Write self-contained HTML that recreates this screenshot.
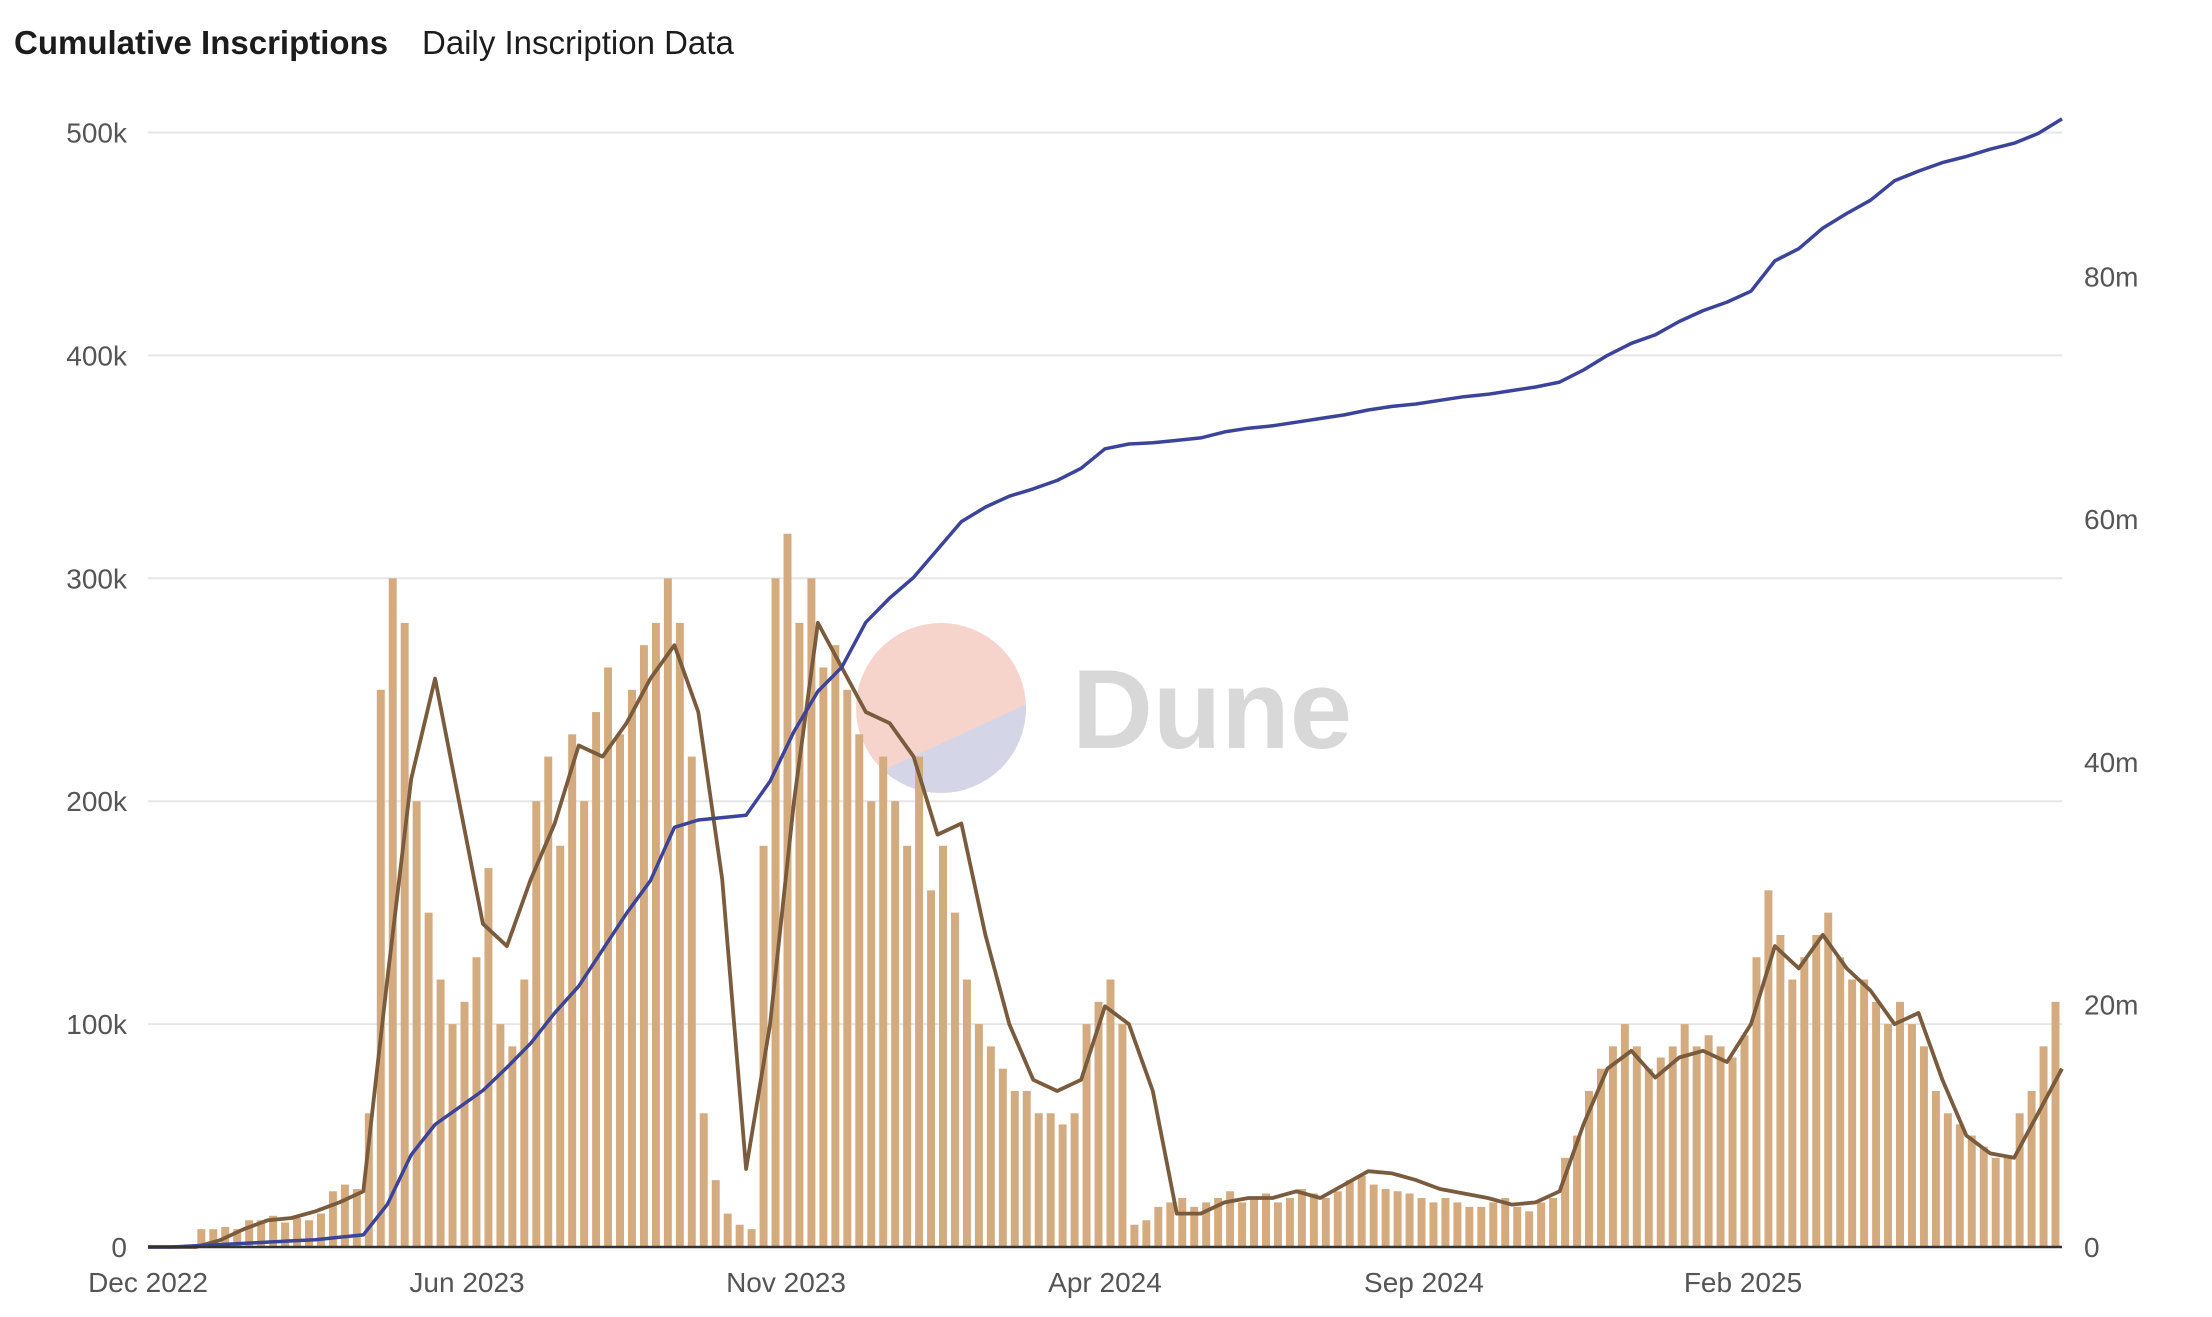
<!DOCTYPE html>
<html><head><meta charset="utf-8"><style>
body{margin:0;background:#fff;}
svg text{font-family:"Liberation Sans",sans-serif;}
</style></head><body>
<svg id="chart" width="2212" height="1312" xmlns="http://www.w3.org/2000/svg">
<text x="14" y="54" font-size="33" font-weight="bold" fill="#1c1c1c">Cumulative Inscriptions</text>
<text x="422" y="54" font-size="33" fill="#1c1c1c">Daily Inscription Data</text>
<g id="grid"></g>
<g id="watermark">
<clipPath id="wc"><circle cx="941" cy="708" r="85"/></clipPath>
<circle cx="941" cy="708" r="85" fill="#f6d4cb"/>
<polygon clip-path="url(#wc)" points="840,790 1040,698 1040,800 840,800" fill="#d5d5e8"/>
<text x="1072" y="748" font-size="112" font-weight="bold" fill="#d8d8d8">Dune</text>
</g>
<g id="bars"></g>
<g id="lines"></g>
<g id="axes"></g>
</svg>
<script>
const dailyK=[0,0,0,0,8,8,9,8,12,12,14,11,13,12,15,25,28,26,60,250,300,280,200,150,120,100,110,130,170,100,90,120,200,220,180,230,200,240,260,230,250,270,280,300,280,220,60,30,15,10,8,180,300,320,280,300,260,270,250,230,200,220,200,180,220,160,180,150,120,100,90,80,70,70,60,60,55,60,100,110,120,100,10,12,18,20,22,18,20,22,25,20,22,24,20,22,26,24,22,25,30,32,28,26,25,24,22,20,22,20,18,18,20,22,18,16,20,22,40,50,70,80,90,100,90,80,85,90,100,90,95,90,85,95,130,160,140,120,130,140,150,130,120,120,110,100,110,100,90,70,60,55,50,45,40,40,60,70,90,110];
const maK=[0,0,0,3,8,12,13,16,20,25,120,210,255,200,145,135,165,190,225,220,235,255,270,240,165,35,100,200,280,260,240,235,220,185,190,140,100,75,70,75,108,100,70,15,15,20,22,22,25,22,28,34,33,30,26,24,22,19,20,25,55,80,88,76,85,88,83,100,135,125,140,125,115,100,105,75,50,42,40,60,80];
const cumM=[0,0,0.1,0.2,0.3,0.4,0.5,0.6,0.8,1.0,3.5,7.6,10.1,11.5,12.9,14.8,16.8,19.3,21.5,24.5,27.5,30.2,34.6,35.2,35.4,35.6,38.4,42.5,45.8,47.8,51.5,53.5,55.2,57.5,59.8,61,61.9,62.5,63.2,64.2,65.8,66.2,66.3,66.5,66.7,67.2,67.5,67.7,68,68.3,68.6,69,69.3,69.5,69.8,70.1,70.3,70.6,70.9,71.3,72.3,73.5,74.5,75.2,76.3,77.2,77.9,78.8,81.3,82.3,84,85.2,86.3,87.9,88.7,89.4,89.9,90.5,91,91.8,93];
const leftTicks=[0,100,200,300,400,500];
const leftTickLabels=["0","100k","200k","300k","400k","500k"];
const rightTicks=[0,20,40,60,80];
const rightTickLabels=["0","20m","40m","60m","80m"];
const xTickPos=[0,1/6,2/6,3/6,4/6,5/6];
const xTickLabels=["Dec 2022","Jun 2023","Nov 2023","Apr 2024","Sep 2024","Feb 2025"];

const NS="http://www.w3.org/2000/svg";
const X0=148,X1=2062,Y0=1247;
const yL=v=>Y0-v*2.229;
const yR=v=>Y0-v*12.13;
const xT=t=>X0+t*(X1-X0);
function mk(tag,attrs,parent){const e=document.createElementNS(NS,tag);for(const k in attrs)e.setAttribute(k,attrs[k]);parent.appendChild(e);return e;}
const grid=document.getElementById('grid'),bars=document.getElementById('bars'),lines=document.getElementById('lines'),axes=document.getElementById('axes');
leftTicks.forEach((v,i)=>{
 if(v>0){const l=mk('line',{x1:X0,x2:X1,y1:yL(v),y2:yL(v),stroke:'#e6e6e6','stroke-width':2},grid);
 
 }
 const t=mk('text',{x:127,y:yL(v)+10,'font-size':28,fill:'#555','text-anchor':'end'},axes);t.textContent=leftTickLabels[i];
 
 
});
rightTicks.forEach((v,i)=>{
 const t=mk('text',{x:2084,y:yR(v)+10,'font-size':28,fill:'#555'},axes);t.textContent=rightTickLabels[i];
 
 
});
xTickPos.forEach((p,i)=>{
 const t=mk('text',{x:xT(p),y:1292,'font-size':28,fill:'#555','text-anchor':'middle'},axes);t.textContent=xTickLabels[i];
 
 
});
const bw=(X1-X0)/dailyK.length;
dailyK.forEach((v,i)=>{
 const r=mk('rect',{x:X0+i*bw+1.5,y:yL(v),width:bw-4,height:Y0-yL(v),fill:'#d4ab7f'},bars);
 
 
});
function path(arr,fy){const n=arr.length-1;return arr.map((v,i)=>(i?'L':'M')+xT(i/n).toFixed(1)+','+fy(v).toFixed(1)).join('');}
const ma=mk('path',{d:path(maK,yL),fill:'none',stroke:'#7b5b3d','stroke-width':3.8,'stroke-linejoin':'round'},lines);


const cu=mk('path',{d:path(cumM,yR),fill:'none',stroke:'#3c4499','stroke-width':3.5,'stroke-linejoin':'round'},lines);


const ax=mk('line',{x1:X0,x2:X1,y1:Y0,y2:Y0,stroke:'#333','stroke-width':2.5},axes);


</script>
</body></html>
